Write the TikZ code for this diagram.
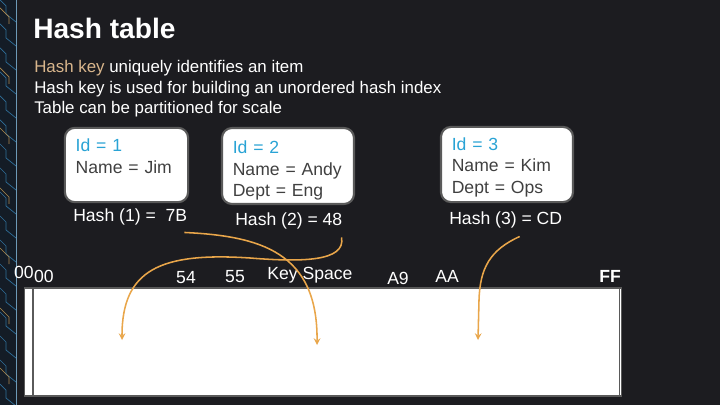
\documentclass[tikz,border=0pt]{standalone}
\usepackage{fontspec}
\setmainfont{Liberation Sans}
\usepackage{tikz}
\usetikzlibrary{calc}
\usetikzlibrary{shapes,arrows}

\definecolor{slide}{HTML}{1C1C20}
\definecolor{strip}{HTML}{141C26}
\definecolor{circuitblue}{HTML}{2F6F9A}
\definecolor{circuitgold}{HTML}{B08A4E}
\definecolor{idblue}{HTML}{29A3D5}
\definecolor{boxtext}{HTML}{404040}
\definecolor{boxgray}{HTML}{5A5A5A}
\definecolor{hashtan}{HTML}{D9B68C}
\definecolor{arroworange}{HTML}{E9A64A}

\newcommand{\idtag}[2][16pt]{\rule{0pt}{#1}\textcolor{idblue}{Id = #2}}

\begin{document}
\begin{tikzpicture}[x=0.025cm,y=-0.025cm,>=stealth]
	\tikzstyle{every node}=[font=\fontsize{12.5}{15.3}\selectfont, inner sep=0pt, text=white]
	\tikzstyle{record}=[draw=boxgray, fill=white, line width=1.5pt, rounded corners=0.25cm, text=boxtext, align=left, inner xsep=0.27cm, inner ysep=0.03cm]
	\tikzstyle{arrowline}=[arroworange, line width=1.1pt, ->]
	
	% slide background
	\useasboundingbox (0,0) rectangle (720,405);
	\fill[slide] (0,0) rectangle (720,405);
	
	% circuit board strip on the left
	\fill[strip] (0,0) rectangle (16,405);
	\foreach \y in {0,24,...,400} {
		\draw[circuitblue, line width=0.5pt] (0,\y) -- (6,\y+6) -- (6,\y+14) -- (16,\y+22);
	}
	\foreach \y in {8,68,...,400} {
		\draw[circuitgold, line width=0.5pt] (0,\y) -- (9,\y+9) -- (9,\y+16);
	}
	\draw[circuitblue!70] (16,0) -- (16,405);
	
	% title and bullet lines
	\node[anchor=base west, font=\fontsize{20}{24}\selectfont\bfseries] (title) at (33,39) {Hash table};
	\node[anchor=west, font=\fontsize{12}{14}\selectfont] (line1) at (34,68) {\textcolor{hashtan}{Hash key} uniquely identifies an item};
	\node[anchor=west, font=\fontsize{12}{14}\selectfont] (line2) at (34,89) {Hash key is used for building an unordered hash index};
	\node[anchor=west, font=\fontsize{12}{14}\selectfont] (line3) at (34,109) {Table can be partitioned for scale};
	
	% the three records
	\node[record, text width=2.54cm, minimum height=1.85cm] (rec1) at (126.5,165)
		{\idtag{1}\\Name = Jim\\\strut};
	\node[record, text width=2.76cm, minimum height=1.9cm] (rec2) at (288,166)
		{\idtag{2}\\Name = Andy\\Dept = Eng};
	\node[record, text width=2.76cm, minimum height=1.88cm] (rec3) at (507,164.5)
		{\idtag[13pt]{3}\\Name = Kim\\Dept = Ops};
	
	% hash values
	\node[anchor=west] (hash1) at (73,217) {Hash (1) = \ 7B};
	\node[anchor=west] (hash2) at (235,221) {Hash (2) = 48};
	\node[anchor=west] (hash3) at (449,220) {Hash (3) = CD};
	
	% key space
	\node[draw=boxgray, fill=white, line width=0.8pt, minimum width=14.9cm, minimum height=2.7cm] (keyspace) at (323,342) {};
	\draw[boxgray, line width=0.8pt] (33,288) -- (33,396);
	\draw[boxgray, line width=0.6pt] (619,288) -- (619,396);
	
	\node (k00a) at (24,272) {00};
	\node (k00b) at (44,276) {00};
	\node (k54) at (186,278) {54};
	\node (k55) at (235,277) {55};
	\node (kname) at (310,275) {Key Space};
	\node (kA9) at (398,278) {A9};
	\node (kAA) at (447,276) {AA};
	\node[font=\fontsize{12.5}{15}\selectfont\bfseries] (kFF) at (610,276) {FF};
	
	% slots hit by the hashes
	\coordinate (slot1) at (317,345);
	\coordinate (slot2) at (122,340);
	\coordinate (slot3) at (478,340);
	
	\draw[arrowline] ($(hash1.south east)+(-3,7)$) .. controls (260,236) and (318,252) .. (slot1);
	\draw[arrowline] ($(hash2.south east)+(-1,8)$) .. controls (346,262) and (300,262) .. (250,258)
		.. controls (160,252) and (122,270) .. (slot2);
	\draw[arrowline] ($(hash3.south)+(14,8)$) .. controls (490,250) and (480,268) .. (479,300) -- (slot3);
	
\end{tikzpicture}
\end{document}
